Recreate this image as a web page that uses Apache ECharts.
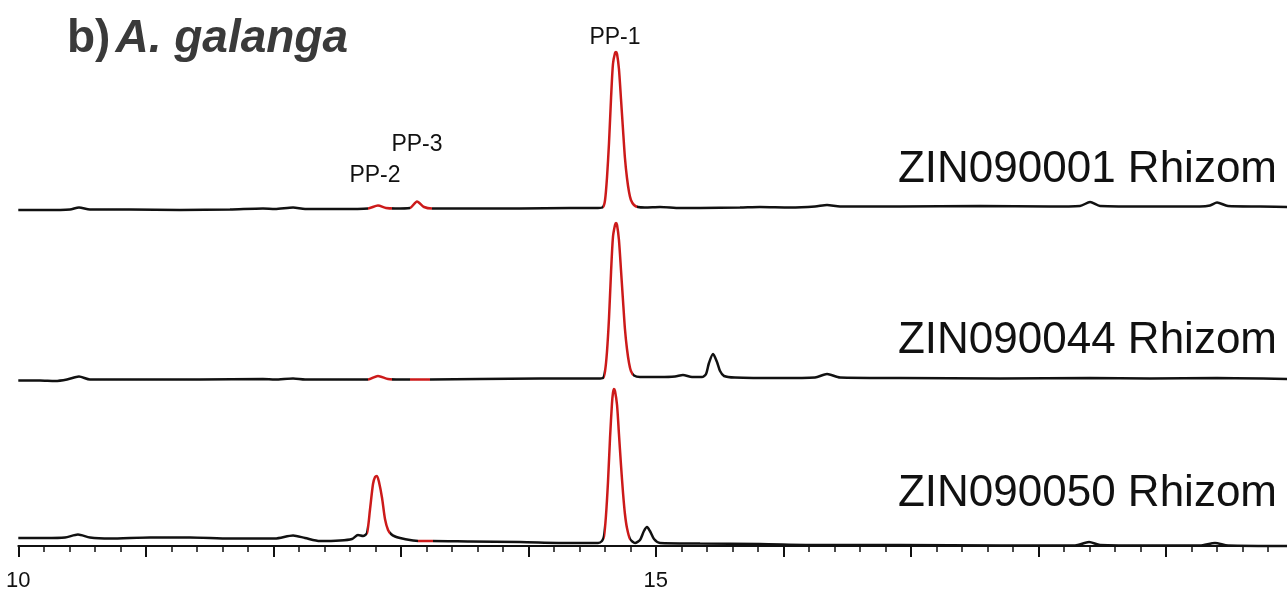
<!DOCTYPE html>
<html>
  <head>
    <meta charset="utf-8" />
    <title>A. galanga</title>
    <script src="https://cdn.jsdelivr.net/npm/echarts/dist/echarts.min.js"></script>
    <style type="text/css">
      * {
        margin: 0px;
        padding: 0px;
      }
      body {
        background-color: #ffffff;
      }
    </style>
  </head>
  <body>
    <div id="main" style="width: 1287px; height: 614px"></div>
  </body>
</html>
<script>
  // retention time (min) and signal for the three samples
  let samples = ["ZIN090001 Rhizom", "ZIN090044 Rhizom", "ZIN090050 Rhizom"];

  let t1 = [10.000, 10.209, 10.405, 10.476, 10.562, 10.876, 11.268, 11.660, 11.919, 12.013,
    12.155, 12.249, 12.523, 12.743, 12.821, 12.884, 12.955, 13.072, 13.127, 13.182,
    13.245, 13.543, 13.935, 14.327, 14.547, 14.586, 14.602, 14.617, 14.633, 14.649,
    14.664, 14.680, 14.688, 14.696, 14.711, 14.727, 14.743, 14.758, 14.774, 14.790,
    14.805, 14.829, 14.860, 14.915, 15.033, 15.190, 15.347, 15.660, 15.817, 16.053,
    16.249, 16.343, 16.445, 16.915, 17.543, 18.092, 18.327, 18.406, 18.484, 18.876,
    19.268, 19.347, 19.402, 19.488, 19.739, 20.000];
  let s1 = [0, 0, 0.5, 2.5, 0.5, 0.5, 0, 0.5, 1.5, 1,
    2.5, 1, 1, 1.5, 4.5, 2, 1.5, 2, 8.5, 3,
    1.5, 1.5, 1.5, 2, 2, 3, 10, 32, 67, 112,
    146, 157, 158, 156, 141, 111, 80, 52, 32, 18,
    10, 5, 3, 2.5, 3, 2, 2, 2.5, 3, 2.5,
    3.5, 5, 3.5, 3.5, 4, 3.5, 4, 8, 4, 3.5,
    3.5, 4.5, 7.5, 4, 3.5, 3];

  let t2 = [10.000, 10.170, 10.288, 10.382, 10.476, 10.562, 10.955, 11.425, 11.919, 12.013,
    12.155, 12.249, 12.602, 12.743, 12.821, 12.900, 12.994, 13.072, 13.229, 13.621,
    14.092, 14.547, 14.586, 14.602, 14.617, 14.633, 14.649, 14.664, 14.680, 14.688,
    14.696, 14.711, 14.727, 14.743, 14.758, 14.774, 14.790, 14.805, 14.829, 14.876,
    15.033, 15.151, 15.213, 15.284, 15.362, 15.394, 15.417, 15.449, 15.480, 15.504,
    15.535, 15.621, 15.974, 16.249, 16.343, 16.445, 16.915, 17.700, 18.406, 18.876,
    19.402, 20.000];
  let s2 = [-0.5, -0.5, -1, 0.5, 3.5, 0.5, 0.5, 0.5, 1, 0.5,
    1.5, 0.5, 0.5, 0.5, 4, 1, 0.5, 0.5, 0.5, 1,
    1.5, 1.5, 2, 9, 28, 62, 108, 143, 155, 157,
    155, 140, 110, 79, 51, 31, 17, 9, 4.5, 3,
    3, 3.5, 5, 3, 3, 6, 17, 26, 18, 9,
    4, 2.5, 2, 2.5, 6, 2.5, 2, 1.5, 2, 1.5,
    2, 1];

  let t3 = [10.000, 10.209, 10.366, 10.468, 10.562, 10.719, 11.033, 11.347, 11.660, 12.013,
    12.155, 12.249, 12.366, 12.523, 12.617, 12.664, 12.704, 12.735, 12.758, 12.782,
    12.798, 12.813, 12.829, 12.853, 12.876, 12.900, 12.923, 12.955, 12.994, 13.072,
    13.151, 13.245, 13.543, 13.935, 14.327, 14.547, 14.578, 14.594, 14.609, 14.625,
    14.641, 14.656, 14.664, 14.672, 14.680, 14.696, 14.711, 14.727, 14.743, 14.758,
    14.774, 14.798, 14.837, 14.876, 14.907, 14.931, 14.954, 14.986, 15.033, 15.347,
    15.817, 16.288, 16.915, 17.700, 18.288, 18.398, 18.484, 18.876, 19.268, 19.386,
    19.488, 20.000];
  let s3 = [8, 8, 8.5, 11.5, 8.5, 7.5, 8.5, 8.5, 7.5, 7.5,
    10.5, 8, 5, 5.5, 7, 11, 10, 13, 36, 62,
    69, 70, 64, 48, 27, 16, 12, 9.5, 8, 6,
    5, 5, 4.5, 4, 3, 3, 5, 10, 30, 64,
    108, 142, 153, 157, 155, 141, 112, 81, 53, 32,
    18, 7, 3, 6, 15, 19, 15, 7, 3, 2.5,
    2, 1, 1, 0.5, 0.5, 4, 1, 0.5, 0.5, 3,
    0.5, 0];

  // retention windows drawn in red (PP-2, PP-3, PP-1)
  let red1 = [[12.743, 12.931], [13.072, 13.245], [14.586, 14.853]];
  let red2 = [[12.743, 12.931], [13.072, 13.229], [14.594, 14.821]];
  let red3 = [[12.735, 12.915], [13.135, 13.250], [14.594, 14.798]];

  let peaks = ["PP-1", "PP-2", "PP-3"];
  let xTicks = [10, 15];

  let times = [t1, t2, t3];
  let signals = [s1, s2, s3];
  let reds = [red1, red2, red3];

  const BLACK = "#111111";
  const RED = "#cc1a1a";
  const FONT = "Liberation Sans, Arial, sans-serif";

  // each trace gets its own grid, 1 signal unit = 1 px
  let baselines = [210, 380, 546];
  let floors = [10, 10, 8];
  let ceil = 170;

  let grids = [], xAxes = [], yAxes = [], series = [], visualMaps = [];
  for (let i = 0; i < 3; i++) {
    grids.push({
      left: 18.3,
      width: 1275,
      top: baselines[i] - ceil,
      height: ceil + floors[i],
      containLabel: false,
      outerBoundsMode: "none",
    });
    let last = i == 2;
    xAxes.push({
      gridIndex: i,
      type: "value",
      min: 10,
      max: 20,
      interval: 1,
      show: last,
      axisLine: { show: true, lineStyle: { color: BLACK, width: 2 } },
      axisTick: { show: true, length: 11, lineStyle: { color: BLACK, width: 2 } },
      minorTick: { show: true, splitNumber: 5, length: 6, lineStyle: { color: BLACK, width: 1.5 } },
      splitLine: { show: false },
      axisLabel: {
        show: true,
        margin: 16,
        color: "#111",
        fontFamily: "Liberation Sans Narrow, Liberation Sans, Arial",
        fontSize: 22,
        formatter: function (v) {
          return xTicks.indexOf(v) >= 0 ? String(v) : "";
        },
      },
    });
    yAxes.push({
      gridIndex: i,
      type: "value",
      min: -floors[i],
      max: ceil,
      show: false,
    });
    let data = [];
    for (let j = 0; j < times[i].length; j++) {
      data.push([times[i][j], signals[i][j]]);
    }
    series.push({
      name: samples[i],
      type: "line",
      xAxisIndex: i,
      yAxisIndex: i,
      data: data,
      showSymbol: false,
      smooth: 0.25,
      lineStyle: { width: 2.5 },
      silent: true,
    });
    visualMaps.push({
      type: "piecewise",
      show: false,
      seriesIndex: i,
      dimension: 0,
      pieces: reds[i].map(function (r) {
        return { gte: r[0], lte: r[1], color: RED };
      }),
      outOfRange: { color: BLACK },
    });
  }

  let sampleY = [170, 341, 494];
  let graphics = [];
  for (let i = 0; i < 3; i++) {
    graphics.push({
      type: "text",
      style: {
        text: samples[i],
        x: 1277,
        y: sampleY[i],
        align: "right",
        verticalAlign: "middle",
        font: "44px " + FONT,
        fill: "#111",
      },
    });
  }
  // peak labels
  let peakPos = [[615, 38], [375, 176], [417, 145]];
  for (let i = 0; i < peaks.length; i++) {
    graphics.push({
      type: "text",
      style: {
        text: peaks[i],
        x: peakPos[i][0],
        y: peakPos[i][1],
        align: "center",
        verticalAlign: "middle",
        font: "23px " + FONT,
        fill: "#111",
      },
    });
  }

  let myChart = echarts.init(document.getElementById("main"));

  let option = {
    animation: false,
    backgroundColor: "#ffffff",
    title: {
      text: "{a|b)} {b|A. galanga}",
      left: 62,
      top: 11,
      textStyle: {
        rich: {
          a: { fontFamily: FONT, fontSize: 46, fontWeight: "bold", color: "#3a3a3a" },
          b: { fontFamily: FONT, fontSize: 46, fontWeight: "bold", fontStyle: "italic", color: "#3a3a3a" },
        },
      },
    },
    grid: grids,
    xAxis: xAxes,
    yAxis: yAxes,
    visualMap: visualMaps,
    series: series,
    graphic: graphics,
  };

  myChart.setOption(option);
</script>
